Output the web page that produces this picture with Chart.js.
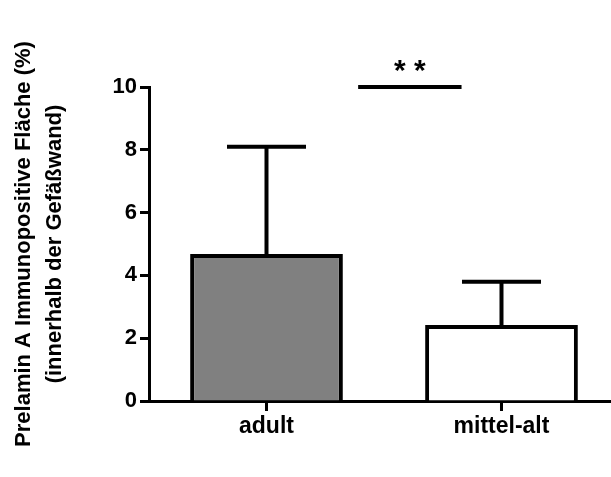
<!DOCTYPE html>
<html>
<head>
<meta charset="utf-8">
<script src="https://cdn.jsdelivr.net/npm/chart.js@4/dist/chart.umd.min.js"></script>
<style>
  body { margin: 0; background: #fff; overflow: hidden; }
</style>
</head>
<body>
<canvas id="myChart" width="611" height="477"></canvas>
<script>
//Data
const groups = ['adult', 'mittel-alt'];
const means = [4.68, 2.42];
const sd = [3.42, 1.38];
const barColors = ['#808080', '#ffffff'];
const yTicks = [0, 2, 4, 6, 8, 10];
const yTitle = ['Prelamin A Immunopositive Fläche (%)', '(innerhalb der Gefäßwand)'];
//significance bar: from, to (x index units), height, label
const sigFrom = [0.39];
const sigTo = [0.83];
const sigY = [10];
const sigLabel = ['* *'];

const FONT = "'Liberation Sans', Arial, sans-serif";

//Error bars, x tick marks, significance marker
const extras = {
  id: 'extras',
  afterDraw(chart) {
    const ctx = chart.ctx;
    const xs = chart.scales.x;
    const ys = chart.scales.y;
    ctx.save();
    ctx.setLineDash([]);
    ctx.globalAlpha = 1;
    ctx.fillStyle = '#000';
    ctx.strokeStyle = '#000';
    ctx.lineCap = 'butt';
    //category tick marks under the axis
    groups.forEach((g, i) => {
      const x = xs.getPixelForValue(i);
      const y0 = ys.getPixelForValue(0);
      ctx.fillRect(x - 1.5, y0, 3, 10);
    });
    ctx.lineWidth = 4;
    means.forEach((m, i) => {
      const x = xs.getPixelForValue(i);
      const y0 = ys.getPixelForValue(m);
      const y1 = ys.getPixelForValue(m + sd[i]);
      ctx.beginPath();
      ctx.moveTo(x, y0);
      ctx.lineTo(x, y1);
      ctx.moveTo(x - 39.5, y1);
      ctx.lineTo(x + 39.5, y1);
      ctx.stroke();
    });
    sigFrom.forEach((f, i) => {
      const y = ys.getPixelForValue(sigY[i]);
      const xa = xs.getPixelForValue(f);
      const xb = xs.getPixelForValue(sigTo[i]);
      ctx.beginPath();
      ctx.moveTo(xa, y);
      ctx.lineTo(xb, y);
      ctx.stroke();
      ctx.font = 'bold 30px ' + FONT;
      ctx.textAlign = 'center';
      ctx.textBaseline = 'middle';
      ctx.fillText(sigLabel[i], (xa + xb) / 2, y - 15);
    });
    ctx.restore();
  }
};

let myChart = document.getElementById('myChart').getContext('2d');

let barChart = new Chart(myChart, {
  type: 'bar',
  data: {
    datasets: [{
      data: means.map((v, i) => ({ x: i, y: v })),
      backgroundColor: barColors,
      borderColor: '#000',
      borderWidth: 4,
      barPercentage: 0.65,
      categoryPercentage: 1
    }]
  },
  options: {
    responsive: false,
    animation: false,
    layout: { padding: { top: 87 } },
    plugins: {
      legend: { display: false }
    },
    scales: {
      x: {
        type: 'linear',
        min: -0.5,
        max: 1.466,
        offset: false,
        afterBuildTicks: s => { s.ticks = groups.map((g, i) => ({ value: i })); },
        afterFit: s => { s.height = 76; },
        ticks: {
          callback: v => groups[v],
          color: '#000',
          font: { family: FONT, size: 23, weight: 'bold' },
          padding: 2,
          maxRotation: 0
        },
        grid: {
          offset: false,
          drawOnChartArea: false,
          tickLength: 10,
          tickWidth: 3,
          tickColor: '#000'
        },
        border: { display: true, color: '#000', width: 3 }
      },
      y: {
        min: 0,
        max: 10,
        afterBuildTicks: s => { s.ticks = yTicks.map(v => ({ value: v })); },
        afterFit: s => { s.width = 149; },
        ticks: {
          color: '#000',
          font: { family: FONT, size: 22, weight: 'bold' },
          padding: 3
        },
        grid: {
          drawOnChartArea: false,
          tickLength: 9,
          tickWidth: 3,
          color: '#000'
        },
        border: { display: true, color: '#000', width: 3 },
        title: {
          display: true,
          text: yTitle,
          color: '#000',
          font: { family: FONT, size: 22, weight: 'bold', lineHeight: 1.4 },
          padding: { top: 9, bottom: 0 }
        }
      }
    }
  },
  plugins: [extras]
});
</script>
</body>
</html>
